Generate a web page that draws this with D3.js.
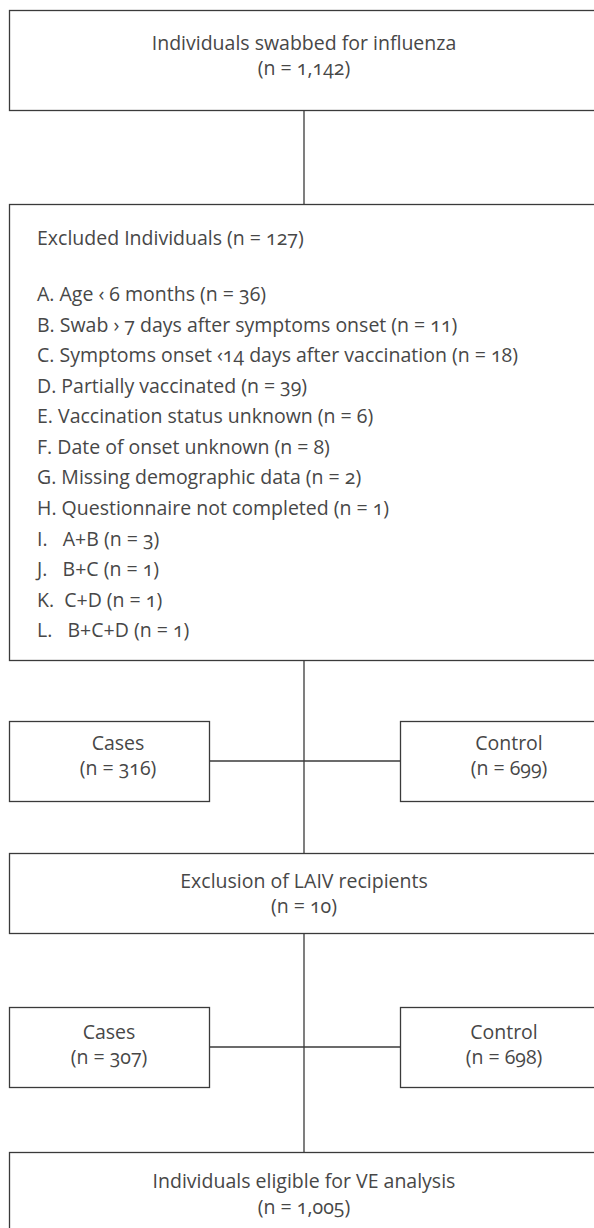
<!DOCTYPE html>
<html>
<head>
<meta charset="utf-8">
<script src="https://cdn.jsdelivr.net/npm/d3@7"></script>
<style>
  html, body { margin: 0; padding: 0; background: #fff; }
  svg text { font-family: "Open Sans", "Noto Sans", sans-serif; font-weight: 400; fill: #474747; font-variant-numeric: oldstyle-nums; white-space: pre; }
</style>
</head>
<body>
<svg id="chart" width="594" height="1228"></svg>
<script>
// ---- data ----
const stageLabels = ["Individuals swabbed for influenza", "Exclusion of LAIV recipients", "Individuals eligible for VE analysis"];
const stageCounts = ["1,142", "10", "1,005"];
const excludedTitle = "Excluded Individuals";
const excludedTotal = "127";
const exclusionReasons = [
  "A. Age ‹ 6 months",
  "B. Swab › 7 days after symptoms onset",
  "C. Symptoms onset ‹14 days after vaccination",
  "D. Partially vaccinated",
  "E. Vaccination status unknown",
  "F. Date of onset unknown",
  "G. Missing demographic data",
  "H. Questionnaire not completed",
  "I.   A+B",
  "J.   B+C",
  "K.  C+D",
  "L.   B+C+D"
];
const exclusionCounts = ["36", "11", "18", "39", "6", "8", "2", "1", "3", "1", "1", "1"];
const splitLabels = ["Cases", "Control"];
const splitCounts1 = ["316", "699"];
const splitCounts2 = ["307", "698"];

// ---- layout ----
const svg = d3.select("#chart");
const cx = 304;
const stroke = "#3a3a3a";
const fs = 19.5;

const g = svg.append("g");

function box(x, y, w, h) {
  g.append("rect").attr("x", x).attr("y", y).attr("width", w).attr("height", h)
    .attr("fill", "#fff").attr("stroke", stroke).attr("stroke-width", 1.3);
}
function line(x1, y1, x2, y2) {
  g.append("line").attr("x1", x1).attr("y1", y1).attr("x2", x2).attr("y2", y2)
    .attr("stroke", stroke).attr("stroke-width", 1.3);
}
function label(x, y, t, anchor) {
  g.append("text").attr("x", x).attr("y", y).attr("text-anchor", anchor || "middle")
    .attr("font-size", fs).attr("dominant-baseline", "middle").text(t);
}
const nText = v => "(n = " + v + ")";

// connectors
line(cx, 111, cx, 204);
line(cx, 661, cx, 853);
line(209, 761, 400, 761);
line(cx, 934, cx, 1152);
line(209, 1047, 400, 1047);

// box 1
box(9.5, 10.5, 620, 100);
label(cx, 45, stageLabels[0]);
label(cx, 70, nText(stageCounts[0]));

// excluded box
box(9.5, 204.5, 620, 456);
label(37, 240, excludedTitle + " " + nText(excludedTotal), "start");
const yList = d3.scaleLinear().domain([0, exclusionReasons.length - 1]).range([296, 632]);
exclusionReasons.forEach((r, i) => {
  label(37, yList(i), r + " " + nText(exclusionCounts[i]), "start");
});

// split 1
box(9.5, 721.5, 200, 80);
box(400.5, 721.5, 220, 80);
label(118, 745, splitLabels[0]);
label(118, 770, nText(splitCounts1[0]));
label(509, 745, splitLabels[1]);
label(509, 770, nText(splitCounts1[1]));

// LAIV box
box(9.5, 853.5, 620, 80);
label(cx, 883, stageLabels[1]);
label(cx, 908, nText(stageCounts[1]));

// split 2
box(9.5, 1007.5, 200, 80);
box(400.5, 1007.5, 220, 80);
label(109, 1034, splitLabels[0]);
label(109, 1059, nText(splitCounts2[0]));
label(504, 1034, splitLabels[1]);
label(504, 1059, nText(splitCounts2[1]));

// final box
box(9.5, 1152.5, 620, 100);
label(cx, 1183, stageLabels[2]);
label(cx, 1209, nText(stageCounts[2]));
</script>
</body>
</html>
